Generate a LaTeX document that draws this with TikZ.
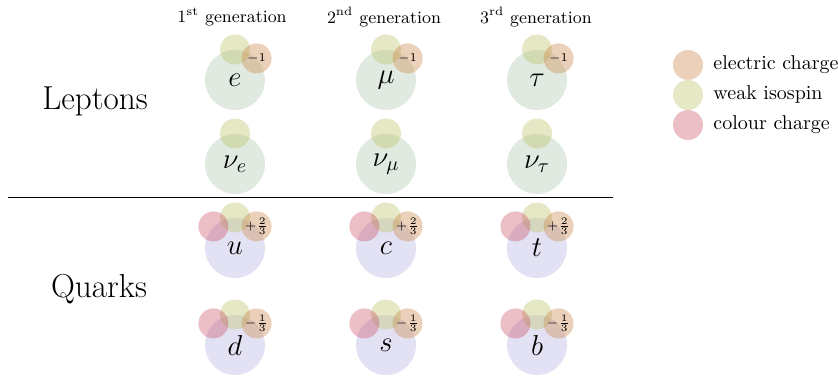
\documentclass[tikz,border=0pt]{standalone}
\usetikzlibrary{positioning}
\definecolor{chargecol}{RGB}{205,140,80}
\definecolor{isocol}{RGB}{190,195,110}
\definecolor{colourcol}{RGB}{200,70,90}
\definecolor{leptoncol}{RGB}{130,170,130}
\definecolor{quarkcol}{RGB}{140,140,210}
\begin{document}
\begin{tikzpicture}[x=0.5pt, y=-0.5pt,
    lepton/.style={circle, fill=leptoncol, fill opacity=0.25, text opacity=1, minimum size=30pt, inner sep=0pt, outer sep=0.25pt, font=\fontsize{14}{16}\selectfont},
    quark/.style={lepton, fill=quarkcol},
    iso/.style={circle, fill=isocol, fill opacity=0.4, text opacity=1, minimum size=15pt, inner sep=0pt},
    charge/.style={iso, fill=chargecol, font=\fontsize{6.5}{7}\selectfont},
    colour/.style={iso, fill=colourcol, fill opacity=0.35},
    gen/.style={font=\fontsize{8.7}{10}\selectfont},
    family/.style={font=\fontsize{16.6}{19}\selectfont},
    legend/.style={font=\fontsize{10}{12}\selectfont}
]
\useasboundingbox (0,0) rectangle (838,379);

% Generations
\node[gen] (gen1) at (232,17) {1\textsuperscript{st} generation};
\node[gen] (gen2) at (384,17) {2\textsuperscript{nd} generation};
\node[gen] (gen3) at (536,17) {3\textsuperscript{rd} generation};

% Families
\node[family] (leptons) at (95,101) {Leptons};
\node[family] (quarks) at (99,289) {Quarks};
\draw[semithick] (8,197.5) coordinate (sepL) -- (613,197.5) coordinate (sepR);

% Charged leptons
\node[lepton] (e) at (235,80) {$e$};
\node[iso] (e-iso) at (e.90) {};
\node[charge] (e-chg) at (e.45) {$-1$};
\node[lepton] (mu) at (386,80) {$\mu$};
\node[iso] (mu-iso) at (mu.90) {};
\node[charge] (mu-chg) at (mu.45) {$-1$};
\node[lepton] (tau) at (537,80) {$\tau$};
\node[iso] (tau-iso) at (tau.90) {};
\node[charge] (tau-chg) at (tau.45) {$-1$};

% Neutrinos
\node[lepton] (nue) at (235,164) {$\nu_e$};
\node[iso] (nue-iso) at (nue.90) {};
\node[lepton] (numu) at (386,164) {$\nu_\mu$};
\node[iso] (numu-iso) at (numu.90) {};
\node[lepton] (nutau) at (537,164) {$\nu_\tau$};
\node[iso] (nutau-iso) at (nutau.90) {};

% Up-type quarks
\node[quark] (u) at (235,248) {$u$};
\node[iso] (u-iso) at (u.90) {};
\node[colour] (u-col) at (u.135) {};
\node[charge] (u-chg) at (u.45) {$+\frac{2}{3}$};
\node[quark] (c) at (386,248) {$c$};
\node[iso] (c-iso) at (c.90) {};
\node[colour] (c-col) at (c.135) {};
\node[charge] (c-chg) at (c.45) {$+\frac{2}{3}$};
\node[quark] (t) at (537,248) {$t$};
\node[iso] (t-iso) at (t.90) {};
\node[colour] (t-col) at (t.135) {};
\node[charge] (t-chg) at (t.45) {$+\frac{2}{3}$};

% Down-type quarks
\node[quark] (d) at (235,345) {$d$};
\node[iso] (d-iso) at (d.90) {};
\node[colour] (d-col) at (d.135) {};
\node[charge] (d-chg) at (d.45) {$-\frac{1}{3}$};
\node[quark] (s) at (386,345) {$s$};
\node[iso] (s-iso) at (s.90) {};
\node[colour] (s-col) at (s.135) {};
\node[charge] (s-chg) at (s.45) {$-\frac{1}{3}$};
\node[quark] (b) at (537,345) {$b$};
\node[iso] (b-iso) at (b.90) {};
\node[colour] (b-col) at (b.135) {};
\node[charge] (b-chg) at (b.45) {$-\frac{1}{3}$};

% Legend
\node[charge] (leg-chg) at (688,65) {};
\node[legend] (leg-chg-txt) [right=1.5pt of leg-chg] {electric charge};
\node[iso] (leg-iso) at (688,95) {};
\node[legend] (leg-iso-txt) [right=1.5pt of leg-iso] {weak isospin};
\node[colour] (leg-col) at (688,125) {};
\node[legend] (leg-col-txt) [right=1.5pt of leg-col] {colour charge};
\end{tikzpicture}
\end{document}
